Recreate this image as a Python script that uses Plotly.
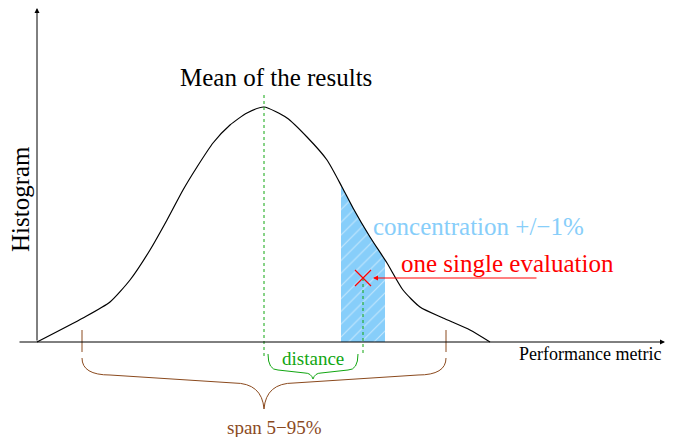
import numpy as np
import plotly.graph_objects as go

# ---- data (metric units on x, histogram count units on y) ----
curve_x = [0, 46, 73, 93, 113, 130, 146, 160, 176, 193, 210, 227, 250, 270, 290, 305, 316, 333, 350, 366, 383, 406, 433, 453]
curve_y = [0, 24, 40, 62, 92, 122, 152, 175, 199, 217, 229, 235, 224, 205, 182, 155, 134, 105, 79, 52, 35, 24, 12, 0]
mean_x = 227
eval_x, eval_y = 326, 64
band = [304, 348]          # concentration +/-1%
span = [45, 409]           # 5% and 95% quantiles
x_axis_end, y_axis_end = 628, 334

BLUE = "#87CEFA"
RED = "#FF0000"
GREEN = "#11A611"
BROWN = "#8B4A1E"
FONT = "Liberation Serif"

fig = go.Figure()

# shaded band under the curve
bx = np.linspace(band[0], band[1], 30)
by = np.interp(bx, curve_x, curve_y)
fig.add_trace(go.Scatter(
    x=[band[0]] + list(bx) + [band[1]], y=[0] + list(by) + [0],
    mode="lines", line=dict(width=0), fill="toself", fillcolor=BLUE,
    fillpattern=dict(shape="/", bgcolor=BLUE, fgcolor="white", size=9, solidity=0.12),
    hoverinfo="skip", showlegend=False))

# curve
fig.add_trace(go.Scatter(x=curve_x, y=curve_y, mode="lines",
                         line=dict(color="black", width=1.2, shape="spline", smoothing=0.6),
                         showlegend=False, hoverinfo="skip"))

# mean dotted line and evaluation dotted line
fig.add_trace(go.Scatter(x=[mean_x, mean_x], y=[247, -16], mode="lines",
                         line=dict(color=GREEN, width=1, dash="dot"), showlegend=False))
fig.add_trace(go.Scatter(x=[eval_x, eval_x], y=[eval_y, -13], mode="lines",
                         line=dict(color=GREEN, width=1, dash="dot"), showlegend=False))

# evaluation marker
fig.add_trace(go.Scatter(x=[eval_x], y=[eval_y], mode="markers",
                         marker=dict(symbol="x-thin", size=16, line=dict(color=RED, width=1.2)),
                         showlegend=False))

# span ticks
for sx in span:
    fig.add_trace(go.Scatter(x=[sx, sx], y=[12, -10], mode="lines",
                             line=dict(color=BROWN, width=1), showlegend=False))


def brace(xl, xr, xm, y0, y1, y2, ytip, w1, w2):
    return (f"M {xl},{y0} Q {xl},{y1} {xl + w1},{y1} "
            f"L {xm - w2},{y2} Q {xm - 2},{y2} {xm},{ytip} "
            f"Q {xm + 2},{y2} {xm + w2},{y2} "
            f"L {xr - w1},{y1} Q {xr},{y1} {xr},{y0}")


shapes = [
    dict(type="path", xref="x", yref="y",
         path=brace(span[0], span[1], mean_x, -16, -33, -41, -67, 28, 30),
         line=dict(color=BROWN, width=1)),
    dict(type="path", xref="x", yref="y",
         path=brace(mean_x + 4, eval_x - 5, (mean_x + eval_x) / 2 - 0.5, -12, -28, -31, -37, 10, 8),
         line=dict(color=GREEN, width=1)),
]

annotations = [
    # axes with arrows
    dict(x=x_axis_end, y=0, ax=-19, ay=0, xref="x", yref="y", axref="x", ayref="y",
         text="", showarrow=True, arrowhead=2, arrowsize=1, arrowwidth=1, arrowcolor="black"),
    dict(x=0, y=y_axis_end, ax=0, ay=0, xref="x", yref="y", axref="x", ayref="y",
         text="", showarrow=True, arrowhead=2, arrowsize=1, arrowwidth=1, arrowcolor="black"),
    # red arrow to the evaluation
    dict(x=eval_x + 10, y=eval_y, ax=501, ay=eval_y, xref="x", yref="y", axref="x", ayref="y",
         text="", showarrow=True, arrowhead=2, arrowsize=1, arrowwidth=1, arrowcolor=RED),
    # texts
    dict(x=239, y=265, text="Mean of the results", showarrow=False,
         font=dict(family=FONT, size=25, color="black")),
    dict(x=-17, y=143, text="Histogram", textangle=-90, showarrow=False,
         font=dict(family=FONT, size=25, color="black")),
    dict(x=441, y=116, text="concentration +/−1%", showarrow=False,
         font=dict(family=FONT, size=25, color=BLUE)),
    dict(x=470, y=79, text="one single evaluation", showarrow=False,
         font=dict(family=FONT, size=25, color=RED)),
    dict(x=553, y=-12, text="Performance metric", showarrow=False,
         font=dict(family=FONT, size=18, color="black")),
    dict(x=276, y=-16, text="distance", showarrow=False,
         font=dict(family=FONT, size=19, color=GREEN)),
    dict(x=237, y=-85, text="span 5−95%", showarrow=False,
         font=dict(family=FONT, size=19, color=BROWN)),
]

# page body has an 8px margin: figure is 665x429 so it ends at the window edge
fig.update_layout(
    width=665, height=429, margin=dict(l=0, r=0, t=0, b=0),
    paper_bgcolor="white", plot_bgcolor="white",
    xaxis=dict(range=[-29, 636], visible=False, fixedrange=True),
    yaxis=dict(range=[-95, 334], visible=False, fixedrange=True),
    shapes=shapes, annotations=annotations, showlegend=False,
)

fig.write_html("out.html")
